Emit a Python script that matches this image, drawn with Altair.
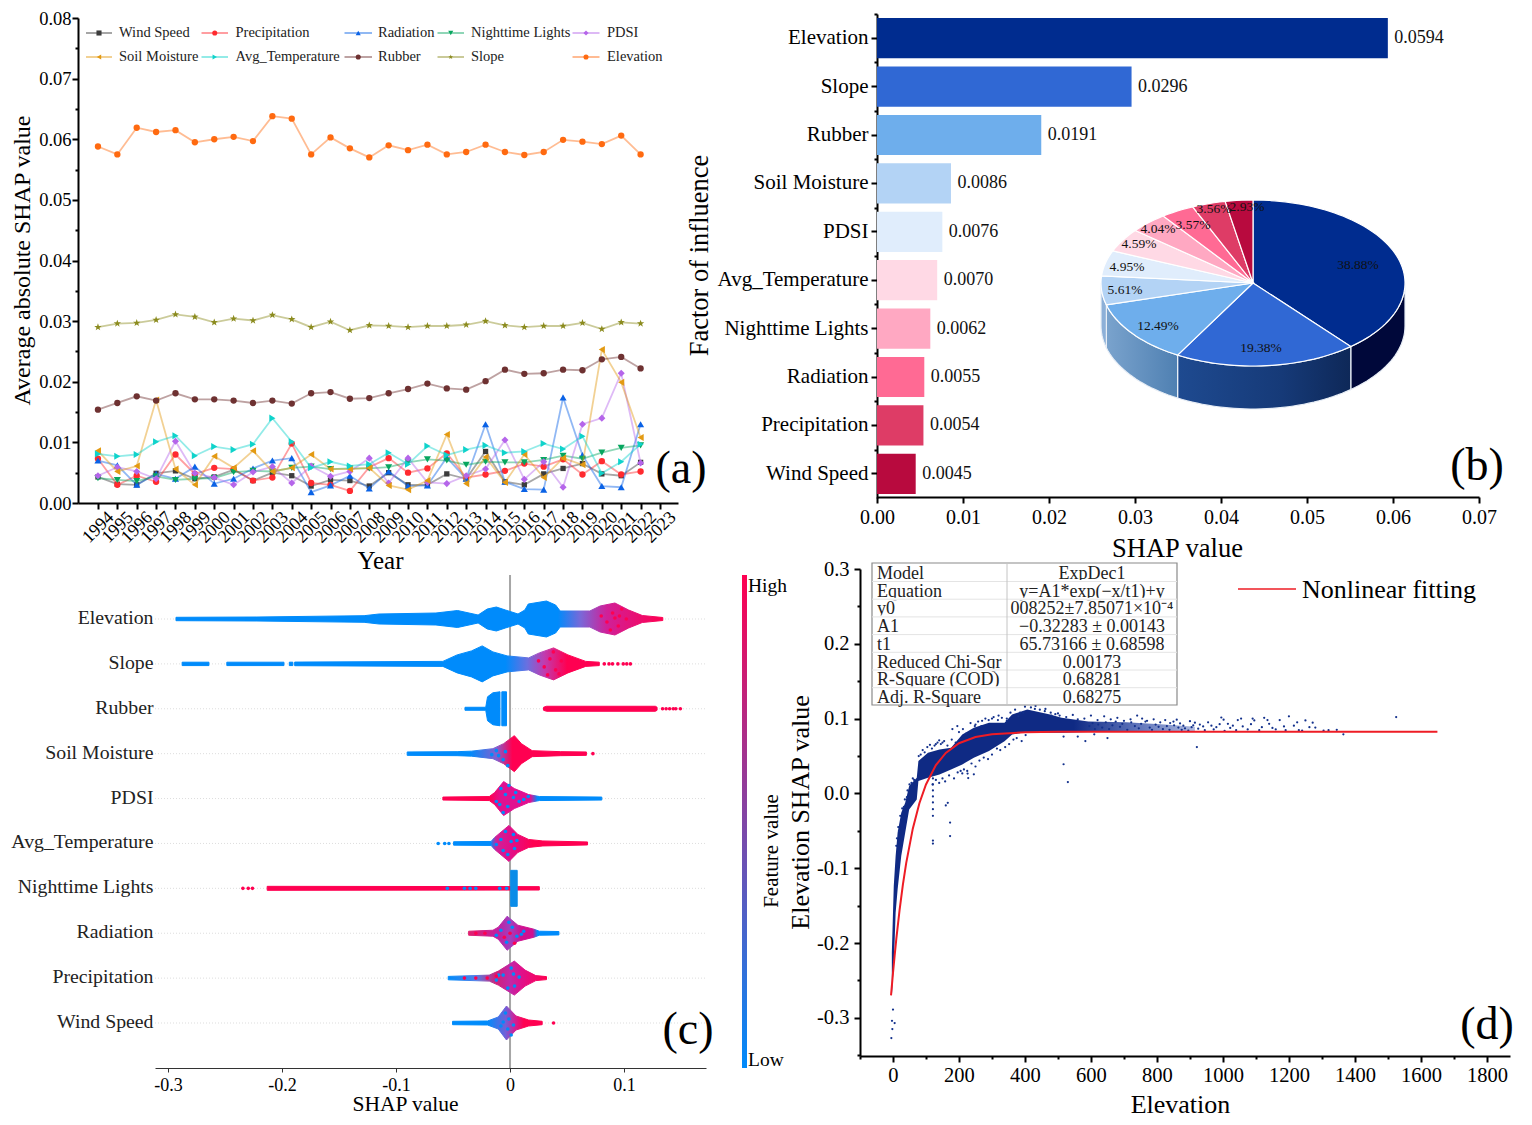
import math
import altair as alt
import pandas as pd

SERIF = "Liberation Serif"
years = list(range(1994, 2023))

wind_speed = [.0043,.0031,.0030,.0049,.0053,.0040,.0043,.0055,.0037,.0050,.0045,.0028,.0038,.0037,.0028,.0050,.0030,.0030,.0048,.0040,.0085,.0035,.0030,.0048,.0057,.0065,.0048,.0045,.0067]
precipitation = [.0073,.0030,.0045,.0035,.0080,.0048,.0058,.0056,.0037,.0042,.0098,.0033,.0030,.0020,.0059,.0074,.0050,.0057,.0082,.0042,.0047,.0053,.0065,.0060,.0072,.0047,.0069,.0047,.0052]
radiation = [.0070,.0062,.0030,.0048,.0040,.0060,.0032,.0040,.0057,.0070,.0074,.0018,.0029,.0045,.0024,.0052,.0028,.0029,.0075,.0040,.0130,.0035,.0023,.0022,.0174,.0079,.0028,.0026,.0130]
nighttime = [.0041,.0038,.0036,.0044,.0038,.0040,.0041,.0051,.0053,.0052,.0058,.0060,.0056,.0057,.0057,.0059,.0067,.0072,.0070,.0063,.0068,.0067,.0067,.0071,.0078,.0073,.0083,.0091,.0095]
pdsi = [.0045,.0059,.0052,.0040,.0102,.0049,.0042,.0030,.0051,.0060,.0033,.0061,.0044,.0052,.0074,.0033,.0074,.0034,.0032,.0045,.0056,.0104,.0039,.0068,.0026,.0130,.0140,.0214,.0066]
soil_moisture = [.0086,.0052,.0061,.0170,.0056,.0030,.0077,.0058,.0086,.0052,.0058,.0080,.0056,.0056,.0058,.0029,.0022,.0037,.0113,.0032,.0076,.0034,.0080,.0042,.0074,.0063,.0253,.0199,.0108]
avg_temperature = [.0081,.0077,.0080,.0101,.0111,.0078,.0093,.0088,.0097,.0140,.0101,.0058,.0068,.0061,.0064,.0083,.0064,.0094,.0079,.0088,.0095,.0083,.0085,.0098,.0089,.0110,.0049,.0068,.0097]
rubber = [.0154,.0165,.0176,.0169,.0181,.0171,.0171,.0169,.0165,.0169,.0164,.0181,.0183,.0172,.0173,.0181,.0188,.0197,.0189,.0187,.0201,.0220,.0213,.0214,.0220,.0219,.0237,.0241,.0222]
slope = [.0290,.0296,.0297,.0302,.0311,.0307,.0298,.0304,.0301,.0310,.0303,.0290,.0299,.0285,.0293,.0292,.0290,.0292,.0292,.0294,.0300,.0293,.0290,.0292,.0292,.0297,.0287,.0298,.0296]
elevation = [.0588,.0575,.0619,.0612,.0615,.0595,.0600,.0604,.0597,.0638,.0634,.0575,.0603,.0585,.0570,.0590,.0582,.0591,.0575,.0579,.0591,.0579,.0574,.0579,.0599,.0596,.0592,.0606,.0575]

STAR = "M0,-1L0.24,-0.33L0.95,-0.31L0.38,0.12L0.59,0.81L0,0.4L-0.59,0.81L-0.38,0.12L-0.95,-0.31L-0.24,-0.33Z"
series_a = [
    ("Wind Speed", wind_speed, "#3c3c3c", "square", 28),
    ("Precipitation", precipitation, "#ff2a2f", "circle", 40),
    ("Radiation", radiation, "#0a62e6", "triangle-up", 50),
    ("Nighttime Lights", nighttime, "#07a65f", "triangle-down", 50),
    ("PDSI", pdsi, "#b565ea", "diamond", 50),
    ("Soil Moisture", soil_moisture, "#e39a12", "triangle-left", 50),
    ("Avg_Temperature", avg_temperature, "#0fd3cb", "triangle-right", 50),
    ("Rubber", rubber, "#6e3131", "circle", 40),
    ("Slope", slope, "#8b8b1e", STAR, 60),
    ("Elevation", elevation, "#ff6a10", "circle", 40),
]

bar_names = ["Elevation","Slope","Rubber","Soil Moisture","PDSI","Avg_Temperature","Nighttime Lights","Radiation","Precipitation","Wind Speed"]
bar_values = [.0594,.0296,.0191,.0086,.0076,.0070,.0062,.0055,.0054,.0045]
bar_colors = ["#002c8f","#3068d4","#6eaeec","#b3d3f5","#e0edfc","#ffd9e5","#ffa8c2","#ff6a94","#de3c66","#b80a3e"]
pie_shares = [38.88,19.38,12.49,5.61,4.95,4.59,4.04,3.57,3.56,2.93]

# Beeswarm outlines: (SHAP value, half thickness)
swarm_segments = [
 (0,[-.293,-.222,-.128,-.115,-.065,-.046,-.028,-.020,-.012,-.004,.007,.013,.016,.032,.040,.044,.070,.079,.092,.104,.116,.134],
    [1.7,2,3.3,5,6,8.5,4,10,12,9,5,9,15,18,14,8,8,13,16,9,3.5,1.5],
    [(-.30,"#008bfb"),(.042,"#008bfb"),(.062,"#7a68d8"),(.085,"#d02098"),(.134,"#ff0051")]),
 (1,[-.2876,-.2641],[1.7,1.7],[(0,"#008bfb"),(1,"#008bfb")]),
 (1,[-.2484,-.1983],[1.7,1.7],[(0,"#008bfb"),(1,"#008bfb")]),
 (1,[-.1936,-.1905],[1.7,1.7],[(0,"#008bfb"),(1,"#008bfb")]),
 (1,[-.1889,-.0589,-.0464,-.0338,-.0244,-.015,-.0025,.0163,.0257,.0382,.0508,.0664,.0783],
    [1.8,2.5,9,13,18,12,8,6,11,16,9,2.5,1.7],
    [(-.19,"#008bfb"),(-.004,"#008bfb"),(.015,"#6a70e0"),(.03,"#c03cb0"),(.05,"#ff0051"),(.08,"#ff0051")]),
 (2,[-.0395,-.0213,-.0197,-.015,-.0088],[1.5,1.5,12,16,17],[(0,"#008bfb"),(1,"#008bfb")]),
 (2,[-.0072,-.0031],[17,17],[(0,"#008bfb"),(1,"#008bfb")]),
 (2,[.0294,.032,.1275,.129],[1.5,2.5,2.5,1.5],[(0,"#ff0051"),(1,"#ff0051")]),
 (3,[-.0902,-.0464,-.0338,-.015,-.0056,.0038,.01,.0194,.0445,.067],[1.7,2,2.5,5,10,18,10,3,2,1.7],
    [(-.09,"#008bfb"),(-.035,"#008bfb"),(-.012,"#8060d0"),(.002,"#ff0051"),(.067,"#ff0051")]),
 (4,[-.0589,-.0182,-.0135,-.0056,.0038,.0163,.0257,.0805],[1.5,2,6,17,10,4,2,1.5],
    [(-.06,"#ff0051"),(-.018,"#ff0051"),(-.008,"#e01090"),(.018,"#e01090"),(.024,"#008bfb"),(.081,"#008bfb")]),
 (5,[-.0495,-.0166,-.0135,-.0009,.0069,.0163,.0288,.068],[1.7,2,6,18,9,4,2.5,1.5],
    [(-.05,"#008bfb"),(-.017,"#008bfb"),(-.012,"#d02098"),(.0,"#e0108a"),(.02,"#ff0051"),(.07,"#ff0051")]),
 (6,[-.213,.0257],[2,1.7],[(0,"#ff0051"),(1,"#ff0051")]),
 (6,[.0006,.0063],[18,18],[(0,"#0a8ce8"),(1,"#0a8ce8")]),
 (7,[-.0363,-.015,-.0103,-.0025,.0069,.021,.0257,.0429],[2,3,6,17,8,4,2,1.7],
    [(-.036,"#e02070"),(-.01,"#c020a0"),(.0,"#a040c0"),(.01,"#d01090"),(.02,"#d01090"),(.024,"#008bfb"),(.043,"#008bfb")]),
 (8,[-.0542,-.0182,-.0103,.0038,.0132,.0226,.032],[1.7,3,7,17,8,2.5,1.5],
    [(-.054,"#008bfb"),(-.03,"#5080e8"),(-.012,"#d02078"),(.0,"#c028a8"),(.01,"#e0108a"),(.032,"#ff0051")]),
 (9,[-.0504,-.0197,-.0103,-.0031,.0053,.0163,.0282],[1.7,2,6,17,7,3,1.7],
    [(-.05,"#008bfb"),(-.02,"#008bfb"),(-.004,"#7060d8"),(.004,"#d02098"),(.012,"#ff0051"),(.03,"#ff0051")]),
]
# Isolated and speckle points: (row, SHAP value, offset, colour)
B, P = "#008bfb", "#ff0051"
swarm_dots = [(1,v,0,P) for v in [.0827,.0868,.0899,.0946,.0993,.1024,.1056]]
swarm_dots += [(2,v,0,P) for v in [.1338,.1369,.14,.1432,.1454,.1494]]
swarm_dots += [(3,.0727,0,P),(5,-.063,0,B),(5,-.0573,0,B),(5,-.0536,0,B),(6,-.2343,0,P),(6,-.2296,0,P),(6,-.2259,0,P),(9,.0382,0,P)]
swarm_dots += [(4,a,b,B) for a,b in [(-.008,-10),(-.004,-4),(-.012,3),(-.002,8),(.003,-1),(.008,3),(.012,1),(-.006,14),(-.001,-13),(-.009,6),(.005,-6),(.016,-2)]]
swarm_dots += [(5,a,b,B) for a,b in [(-.012,1),(-.006,7),(.001,-2),(.004,5),(-.002,11),(.003,-9),(-.008,-4),(-.004,-12),(.006,-3)]]
swarm_dots += [(6,a,b,B) for a,b in [(-.055,0),(-.04,0),(-.035,0),(-.03,0),(-.003,0),(-.009,0)]]
swarm_dots += [(7,a,b,B) for a,b in [(-.008,-3),(.002,-6),(.006,3),(-.003,9),(.01,1),(-.001,-11),(-.012,2),(.012,-2)]]
swarm_dots += [(7,a,b,P) for a,b in [(-.005,4),(.004,10),(.0,0),(-.03,0),(-.022,0)]]
swarm_dots += [(8,a,b,B) for a,b in [(-.012,2),(-.006,-3),(.001,-10),(.004,8),(-.002,10),(.008,-1),(-.01,-3),(.003,-4)]]
swarm_dots += [(8,a,b,P) for a,b in [(-.02,0),(-.03,0),(-.012,-2),(-.04,0)]]
swarm_dots += [(9,a,b,B) for a,b in [(-.004,-10),(-.002,6),(.001,12),(-.006,-1),(.003,2),(-.001,-4),(-.008,3)]]
swarm_dots += [(3,a,b,B) for a,b in [(-.01,2),(-.006,6),(-.004,-2),(-.002,12),(-.012,-3),(-.016,1)]]
swarm_dots += [(0,a,b,P) for a,b in [(.09,-6),(.085,3),(.095,7),(.098,-10),(.088,11),(.102,0),(.092,-1),(.08,-3),(.096,-3)]]
swarm_dots += [(1,a,b,P) for a,b in [(.035,-5),(.04,6),(.03,3),(.045,-3),(.038,-12),(.043,10),(.025,-3),(.033,11)]]

# Panel d
cloud_x  = [-3.5,2.3,8,14,25,37,49,72,77,106,141,176,210,245,291,338,361,407,476,511,592,707,823,915]
cloud_hi = [-.213,-.124,-.0838,-.0526,-.0258,-.0125,.0098,.0209,.0432,.0544,.0588,.0611,.0788,.0878,.0945,.0945,.1056,.1123,.1056,.1011,.0960,.0950,.0920,.0890]
cloud_lo = [-.271,-.2307,-.1595,-.1283,-.0838,-.0526,-.0214,-.008,.0165,.0209,.0254,.0321,.0388,.0477,.0566,.0699,.0789,.082,.0811,.0811,.0820,.0825,.0825,.0825]
scatter_x = [0,-3,5,-2,-5,121,121,121,121,121,121,121,121,121,173,173,166,160,210,245,228,226,517,530,921,583,517,
  250,270,300,320,345,380,395,430,460,480,500,525,545,560,580,600,620,640,660,680,700,720,740,755,770,790,810,825,840,850,
  860,870,880,900,905,915,925,930,940,945,955,965,972,980,990,995,1002,1005,1015,1022,1030,1040,1045,1055,1060,1075,1085,1090,1095,1110,1118,1125,1135,1140,1150,1160,1172,1185,1190,1200,1215,1225,1230,1240,1250,1262,1272,1280,1305,1320,1345,1365,1525,130,140,150,180,195,560,610,650,
  10,12,16,18,22,28,33,36,42,44,50,56,60,64,78,84,90,96,104,112,118,126,135,145,155,165,178,190,200,212,222,235,248,258,268,280,290,305,318,330,345,356,370,385,400,418,432,445,462,478,492,505,
  120,130,140,150,158,170,185,196,205,215,225,238,250,262,275,288,300,315,325,340,352,365,375,390,402,
  595,605,612,622,634,645,655,665,675,688,695,710,722,733,745,752,765,778,785,796,805,818,830,838,852,865,875,885,895,910]
scatter_y = [-.289,-.304,-.307,-.315,-.327,.02,.012,.004,-.004,-.012,-.021,-.03,-.063,-.067,-.039,-.057,-.0125,-.016,.0267,.0255,.0205,.0265,.039,.0152,.062,.070,.076,
  .092,.097,.100,.104,.1,.103,.108,.113,.11,.104,.107,.102,.105,.099,.1,.104,.098,.103,.099,.101,.097,.099,.104,.1,.097,.099,.095,.098,.094,.096,
  .0985,.0935,.0905,.0965,.0885,.0945,.0865,.092,.0895,.0845,.095,.0905,.0855,.0885,.0925,.1015,.0985,.0835,.093,.0875,.0905,.0845,.098,.1,.0895,.0855,.0925,.1,.0975,.0845,.0885,.101,.098,.093,.0875,.0855,.098,.0895,.0845,.103,.0905,.095,.0845,.084,.0975,.0885,.0945,.088,.084,.0845,.085,.079,.102,.066,.071,.068,.086,.09,.076,.079,.074,
  -.07,-.06,-.045,-.05,-.03,-.02,-.018,-.008,-.005,.004,.012,.014,.02,.018,.05,.052,.058,.055,.062,.065,.06,.064,.068,.066,.07,.064,.072,.068,.082,.086,.08,.094,.09,.096,.09,.1,.098,.102,.098,.101,.097,.108,.112,.108,.116,.115,.117,.112,.113,.108,.106,.104,
  .012,.018,.014,.02,.016,.024,.02,.028,.03,.032,.03,.04,.036,.044,.048,.046,.052,.06,.058,.062,.066,.072,.074,.07,.078,
  .09,.094,.086,.092,.088,.095,.086,.091,.096,.089,.093,.085,.095,.09,.087,.093,.096,.088,.085,.092,.089,.086,.09,.085,.091,.088,.085,.087,.084,.091]
fit_x = [-6,0,5,10,20,30,40,60,80,100,130,160,200,250,300,400,500,700,1650]
fit_y = [-.27,-.24,-.2167,-.1948,-.1556,-.122,-.0932,-.0471,-.0131,.012,.0378,.0542,.0671,.0753,.0791,.0818,.0823,.0825,.0825]

table_rows = [("Model","ExpDec1"),("Equation","y=A1*exp(−x/t1)+y"),("y0","008252±7.85071×10⁻⁴"),("A1","−0.32283 ± 0.00143"),
              ("t1","65.73166 ± 0.68598"),("Reduced Chi-Sqr","0.00173"),("R-Square (COD)","0.68281"),("Adj. R-Square","0.68275")]


def lin(dom, px):
    return alt.Scale(domain=dom, range=[p - 8 for p in px], nice=False, zero=False)


def txt(text, x, y, size, align="center", angle=0, color="black"):
    return alt.Chart(pd.DataFrame({"t": [text]})).mark_text(
        fontSize=size, align=align, baseline="middle", angle=angle, font=SERIF, color=color
    ).encode(text="t:N", x=alt.value(x - 8), y=alt.value(y - 8))


def axis_kw(**kw):
    base = dict(grid=False, labelFont=SERIF, labelColor="black", titleFont=SERIF, titleColor="black",
                domainColor="black", tickColor="black", titleFontWeight="normal", domainWidth=2, tickWidth=2,
                tickSize=6, labelFlush=False, labelOverlap=False, titleBaseline="middle", titleAlign="center")
    base.update(kw)
    return alt.Axis(**base)


def xaxis_layer(vals, scale, **kw):
    return alt.Chart(pd.DataFrame({"v": vals})).mark_point(opacity=0).encode(
        x=alt.X("v:Q", scale=scale, axis=axis_kw(orient="bottom", values=vals, **kw)))


def yaxis_layer(vals, scale, **kw):
    return alt.Chart(pd.DataFrame({"v": vals})).mark_point(opacity=0).encode(
        y=alt.Y("v:Q", scale=scale, axis=axis_kw(orient="left", values=vals, **kw)))


HYPHEN = "replace(format(datum.value, '.1f'), '\u2212', '-')"
H = 1109
layers = []

# ---------- (a)
ax = lin([1992.97, 2023.93], [78, 678])
ay = lin([0, 0.08], [503, 18])
layers.append(xaxis_layer(list(range(1994, 2024)), ax, format="d", labelFontSize=18,
                          labelAngle=-45, labelAlign="center", labelBaseline="middle", labelPadding=18, title="Year",
                          titleFontSize=25, titleX=372, titleY=57, offset=503 - 8 - H))
layers.append(yaxis_layer([0, .01, .02, .03, .04, .05, .06, .07, .08], ay,
                          format=".2f", labelFontSize=18.5, labelPadding=1, title="Average absolute SHAP value",
                          titleFontSize=24, titleX=-56, titleY=252, titleAngle=270, offset=-70))
layers.append(yaxis_layer([.005, .015, .025, .035, .045, .055, .065, .075], ay,
                          labels=False, domain=False, tickSize=3, title=None, offset=-70))
for name, vals, col, shp, sz in series_a:
    d = pd.DataFrame({"y": years, "v": vals})
    enc = dict(x=alt.X("y:Q", scale=ax, axis=None), y=alt.Y("v:Q", scale=ay, axis=None))
    layers.append(alt.Chart(d).mark_line(color=col, opacity=0.45, strokeWidth=1.8).encode(**enc))
    layers.append(alt.Chart(d).mark_point(shape=shp, filled=True, color=col, opacity=1, size=sz).encode(**enc))

leg_cols = [(86, 112, 119), (201.5, 228, 235.5), (344.5, 372, 378), (437.5, 464, 471), (572.5, 599.5, 607)]
leg = []
for i, (name, vals, col, shp, sz) in enumerate(series_a):
    c = leg_cols[i % 5]
    ly = 33 if i < 5 else 57
    leg.append(dict(n=name, x1=c[0] - 8, x2=c[1] - 8, tx=c[2] - 8, mx=(c[0] + c[1]) / 2 - 8, ly=ly - 8, col=col, shp=shp))
leg = pd.DataFrame(leg)
ly_enc = alt.Y("ly:Q", scale=None, axis=None)
layers.append(alt.Chart(leg).mark_rule(opacity=0.5, strokeWidth=1.8).encode(
    x=alt.X("x1:Q", scale=None, axis=None), x2="x2:Q", y=ly_enc, color=alt.Color("col:N", scale=None)))
layers.append(alt.Chart(leg).mark_point(filled=True, opacity=1, size=26).encode(
    x=alt.X("mx:Q", scale=None, axis=None), y=ly_enc, color=alt.Color("col:N", scale=None), shape=alt.Shape("shp:N", scale=None)))
layers.append(alt.Chart(leg).mark_text(align="left", baseline="middle", font=SERIF, fontSize=14.5, color="#222").encode(
    x=alt.X("tx:Q", scale=None, axis=None), y=ly_enc, text="n:N"))
layers.append(txt("(a)", 681, 469, 46))

# ---------- (b)
bx = lin([0, 0.07], [877, 1479])
by = alt.Scale(domain=bar_names, range=[14 - 8, 498 - 8], paddingInner=0.17, paddingOuter=0.085)
bdf = pd.DataFrame({"n": bar_names, "v": bar_values, "c": bar_colors, "s": [f"{v:.4f}" for v in bar_values]})
layers.append(alt.Chart(bdf).mark_bar().encode(
    x=alt.X("v:Q", scale=bx, axis=None),
    y=alt.Y("n:N", scale=by, sort=None, axis=axis_kw(orient="left", title="Factor of influence", titleFontSize=26.5, titleX=-178,
                                                     titleY=247, titleAngle=270, labelFontSize=21, labelPadding=3, offset=-869)),
    color=alt.Color("c:N", scale=None)))
layers.append(alt.Chart(bdf).mark_text(align="left", baseline="middle", font=SERIF, fontSize=18, dx=6.5, color="#111").encode(
    x=alt.X("v:Q", scale=bx, axis=None), y=alt.Y("n:N", scale=by, sort=None, axis=None), text="s:N"))
layers.append(yaxis_layer([0, 1, 2, 3, 4, 5, 6, 7, 8, 9], lin([0, 10], [14, 498]), labels=False, domain=False, tickSize=3, title=None, offset=-869))
layers.append(xaxis_layer([0, .01, .02, .03, .04, .05, .06, .07], bx, format=".2f",
                          labelFontSize=20, labelPadding=4, title="SHAP value", titleFontSize=26.5, titleX=1169, titleY=51,
                          offset=497 - 8 - H))

# pie (3D look: an ellipse with a thick side)
CX, CY, RX, RY, DEPTH = 1253 - 8, 283 - 8, 152, 83, 43


def pt(deg, dz=0):
    a = math.radians(deg)
    return [CX + RX * math.sin(a), CY - RY * math.cos(a) + dz]


def arc(a0, a1, dz=0):
    n = max(2, int(abs(a1 - a0) / 2) + 1)
    return [pt(a0 + (a1 - a0) * k / (n - 1), dz) for k in range(n)]


def geo(ring):
    return alt.Data(values=[{"type": "Feature", "properties": {}, "geometry": {"type": "Polygon", "coordinates": [ring + [ring[0]]]}}])


side_fill = [
    [("#00083a", 0), ("#00083a", 1)],
    [("#1e4a90", 0), ("#163a78", 0.6), ("#0e2858", 1)],
    [("#7aa3cd", 0), ("#4f80b2", 1)],
    [("#8db0d8", 0), ("#8db0d8", 1)],
]
tot = sum(pie_shares)
start = 0
bounds = []
for s in pie_shares:
    bounds.append((start, start + s / tot * 360))
    start += s / tot * 360
for i, (a0, a1) in enumerate(bounds[:4]):
    lo, hi = max(a0, 90), min(a1, 270)
    if hi <= lo:
        continue
    ring = arc(lo, hi) + arc(hi, lo, DEPTH)
    grad = alt.Gradient(gradient="linear", x1=0, x2=1, y1=0, y2=0,
                        stops=[alt.GradientStop(color=c, offset=o) for c, o in side_fill[i]])
    layers.append(alt.Chart(geo(ring)).mark_geoshape(fill=grad, stroke="#e8eef6", strokeWidth=1.2).project(type="identity", scale=1, translate=[0, 0]))
for (a0, a1), col in zip(bounds, bar_colors):
    ring = [[CX, CY]] + arc(a0, a1)
    layers.append(alt.Chart(geo(ring)).mark_geoshape(fill=col, stroke="white", strokeWidth=1.2).project(type="identity", scale=1, translate=[0, 0]))
pie_label_pos = [(1358, 265), (1261, 348), (1158, 326), (1125, 290), (1127, 267), (1139, 244), (1158, 229), (1193, 225), (1214, 209), (1247, 207)]
for s, (x, y) in zip(pie_shares, pie_label_pos):
    layers.append(txt(f"{s:.2f}%", x, y, 13.5, color="#111"))
layers.append(txt("(b)", 1477, 466, 46))

# ---------- (c)
cx = lin([-0.3114, 0.1719], [155, 706])
cy = lin([0, 9], [619, 1023])
feat_labels = bar_names
layers.append(alt.Chart(pd.DataFrame({"r": list(range(10))})).mark_rule(color="#dddddd", strokeDash=[1, 2], strokeWidth=1).encode(
    y=alt.Y("r:Q", scale=cy, axis=axis_kw(orient="left", values=list(range(10)), domain=False, ticks=False, title=None,
                                          labelExpr="['" + "','".join(feat_labels) + "'][datum.value]", labelOffset=-1.5,
                                          labelFontSize=19.8, labelColor="#222", labelPadding=2, offset=-147)),
    x=alt.value(147), x2=alt.value(698)))
layers.append(alt.Chart(pd.DataFrame({"z": [0]})).mark_rule(color="#a6a6a6", strokeWidth=2).encode(
    x=alt.X("z:Q", scale=cx, axis=None), y=alt.value(575 - 8), y2=alt.value(1068 - 8)))
for row, xs, hs, stops in swarm_segments:
    d = pd.DataFrame({"x": xs, "lo": [row - h / 44.9 for h in hs], "hi": [row + h / 44.9 for h in hs]})
    x0, x1 = min(xs), max(xs)
    if stops[0][0] == 0 and stops[-1][0] == 1:
        gs = stops
    else:
        gs = [(min(1, max(0, (v - x0) / (x1 - x0))), c) for v, c in stops]
    grad = alt.Gradient(gradient="linear", x1=0, x2=1, y1=0, y2=0,
                        stops=[alt.GradientStop(offset=o, color=c) for o, c in gs])
    layers.append(alt.Chart(d).mark_area(fill=grad, stroke=grad, strokeWidth=1).encode(
        x=alt.X("x:Q", scale=cx, axis=None), y=alt.Y("hi:Q", scale=cy, axis=None), y2="lo:Q"))
dd = pd.DataFrame([{"x": v, "y": r + o / 44.9, "c": c} for r, v, o, c in swarm_dots])
layers.append(alt.Chart(dd).mark_circle(size=13, opacity=1).encode(
    x=alt.X("x:Q", scale=cx, axis=None), y=alt.Y("y:Q", scale=cy, axis=None), color=alt.Color("c:N", scale=None)))
layers.append(xaxis_layer([-.3, -.2, -.1, 0, .1], cx,
                          labelExpr="datum.value == 0 ? '0' : " + HYPHEN, labelFontSize=18, labelPadding=4,
                          domainWidth=1, tickWidth=1, tickSize=4, domainColor="#333", tickColor="#333",
                          title="SHAP value", titleFontSize=21.5, titleX=397, titleY=36, offset=1068 - 8 - H))
grad = alt.Gradient(gradient="linear", x1=0, x2=0, y1=1, y2=0,
                    stops=[alt.GradientStop(offset=0, color="#008bfb"), alt.GradientStop(offset=1, color="#ff0051")])
layers.append(alt.Chart(pd.DataFrame({"a": [0]})).mark_rect(fill=grad).encode(
    x=alt.value(742 - 8), x2=alt.value(747 - 8), y=alt.value(575 - 8), y2=alt.value(1068 - 8)))
layers.append(txt("High", 748, 586, 19.5, align="left"))
layers.append(txt("Low", 748, 1060, 19.5, align="left"))
layers.append(txt("Feature value", 772, 851, 21, angle=270))
layers.append(txt("(c)", 688, 1030, 46))

# ---------- (d)
dx_ = lin([-100, 1870], [860, 1510])
dy_ = lin([-0.351, 0.3], [1056, 569])
layers.append(xaxis_layer(list(range(0, 1900, 200)), dx_, format="d", labelFontSize=20.5, labelPadding=3,
                          title="Elevation", titleFontSize=26, titleX=1172, titleY=48, offset=1056 - 8 - H))
layers.append(xaxis_layer(list(range(-100, 1800, 200)), dx_, labels=False, domain=False, tickSize=3,
                          title=None, offset=1056 - 8 - H))
layers.append(yaxis_layer([-.3, -.2, -.1, 0, .1, .2, .3], dy_, labelExpr=HYPHEN, labelFontSize=20.5,
                          labelPadding=5, title="Elevation SHAP value", titleFontSize=26, titleX=-60, titleY=804, titleAngle=270,
                          offset=-852))
layers.append(yaxis_layer([-.35, -.25, -.15, -.05, .05, .15, .25], dy_, labels=False,
                          domain=False, tickSize=3, title=None, offset=-852))
cloud_fill = alt.Gradient(gradient="linear", x1=0, x2=1, y1=0, y2=0, stops=[
    alt.GradientStop(offset=0, color="#0f2a84"), alt.GradientStop(offset=0.6, color="#0f2a84"),
    alt.GradientStop(offset=0.8, color="#5a70b8"), alt.GradientStop(offset=1, color="#aeb9de")])
layers.append(alt.Chart(pd.DataFrame({"x": cloud_x, "hi": cloud_hi, "lo": cloud_lo})).mark_area(fill=cloud_fill).encode(
    x=alt.X("x:Q", scale=dx_, axis=None), y=alt.Y("hi:Q", scale=dy_, axis=None), y2="lo:Q"))
layers.append(alt.Chart(pd.DataFrame({"x": scatter_x, "y": scatter_y})).mark_circle(size=5, color="#12308c", opacity=1).encode(
    x=alt.X("x:Q", scale=dx_, axis=None), y=alt.Y("y:Q", scale=dy_, axis=None)))
layers.append(alt.Chart(pd.DataFrame({"x": fit_x, "y": fit_y})).mark_line(color="#ee1c25", strokeWidth=2).encode(
    x=alt.X("x:Q", scale=dx_, axis=None), y=alt.Y("y:Q", scale=dy_, axis=None)))

# table
layers.append(alt.Chart(pd.DataFrame({"a": [0]})).mark_rect(fill="white", stroke="#8a8a8a", strokeWidth=1.2).encode(
    x=alt.value(872 - 8), x2=alt.value(1177 - 8), y=alt.value(563 - 8), y2=alt.value(705 - 8)))
for i, (a, b) in enumerate(table_rows):
    yy = 574 + 17.7 * i
    layers.append(txt(a, 877, yy, 18, align="left", color="#222"))
    layers.append(txt(b, 1092, yy, 18, color="#222"))
for i in range(1, 8):
    yy = 563.5 + 17.7 * i + 0.3
    layers.append(alt.Chart(pd.DataFrame({"a": [0]})).mark_rule(color="white", strokeWidth=3).encode(
        x=alt.value(873 - 8), x2=alt.value(1176 - 8), y=alt.value(yy - 8)))
    layers.append(alt.Chart(pd.DataFrame({"a": [0]})).mark_rule(color="#e4e4e4", strokeWidth=1).encode(
        x=alt.value(872 - 8), x2=alt.value(1177 - 8), y=alt.value(yy - 8)))
layers.append(alt.Chart(pd.DataFrame({"a": [0]})).mark_rule(color="#c4c4c4", strokeWidth=1).encode(
    x=alt.value(1007 - 8), y=alt.value(563 - 8), y2=alt.value(705 - 8)))
layers.append(alt.Chart(pd.DataFrame({"a": [0]})).mark_rule(color="#ee1c25", strokeWidth=1.6).encode(
    x=alt.value(1238 - 8), x2=alt.value(1296 - 8), y=alt.value(589 - 8)))
layers.append(txt("Nonlinear fitting", 1302, 590, 26, align="left"))
layers.append(txt("(d)", 1487, 1025, 46))

chart = alt.layer(*layers).resolve_scale(x="independent", y="independent", color="independent", shape="independent").resolve_axis(
    x="independent", y="independent"
).properties(width=1516, height=H, autosize=alt.AutoSizeParams(type="none"), padding=0, background="white").configure_view(stroke=None)

chart.save("out.html", embed_options={"renderer": "svg", "actions": False})
